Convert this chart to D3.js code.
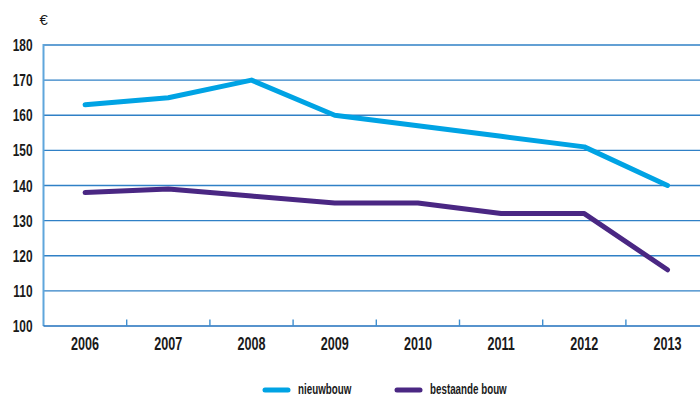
<!DOCTYPE html>
<html>
<head>
<meta charset="utf-8">
<script src="https://cdn.jsdelivr.net/npm/d3@7"></script>
<style>
  html, body { margin: 0; padding: 0; background: #fff; }
  svg { display: block; }
  text { font-family: "Liberation Sans", Arial, sans-serif; fill: #1a1a1a; }
</style>
</head>
<body>
<svg id="chart" width="700" height="397"></svg>
<script>
// Average price per m² (€), new vs existing construction
const years = ["2006", "2007", "2008", "2009", "2010", "2011", "2012", "2013"];
const nieuwbouw = [163, 165, 170, 160, 157, 154, 151, 140];
const bestaandeBouw = [138, 139, 137, 135, 135, 132, 132, 116];
const yTicks = [100, 110, 120, 130, 140, 150, 160, 170, 180];
const seriesNames = ["nieuwbouw", "bestaande bouw"];
const seriesColors = ["#00a3e4", "#4a2783"];

const svg = d3.select("#chart");
const plotLeft = 43.5, plotTop = 45, plotBottom = 326;
const band = 83.2;

const x = d3.scaleBand().domain(years).range([plotLeft, plotLeft + band * years.length]).padding(0);
const y = d3.scaleLinear().domain([100, 180]).range([plotBottom, plotTop]);

const narrow = 0.7;

// horizontal gridlines
svg.append("g")
  .selectAll("line")
  .data(yTicks.filter(d => d > 100))
  .join("line")
  .attr("x1", plotLeft).attr("x2", 700)
  .attr("y1", d => y(d)).attr("y2", d => y(d))
  .attr("stroke", "#2f80c6").attr("stroke-width", 1.4);

// y axis line
svg.append("line")
  .attr("x1", plotLeft).attr("x2", plotLeft)
  .attr("y1", plotTop - 1).attr("y2", plotBottom)
  .attr("stroke", "#5fa6dc").attr("stroke-width", 2);

// x axis line with tick marks at band boundaries
svg.append("line")
  .attr("x1", plotLeft).attr("x2", 700)
  .attr("y1", plotBottom).attr("y2", plotBottom)
  .attr("stroke", "#1f6fbc").attr("stroke-width", 1.6);
svg.append("g")
  .selectAll("line")
  .data(years.slice(1))
  .join("line")
  .attr("x1", d => x(d)).attr("x2", d => x(d))
  .attr("y1", plotBottom).attr("y2", plotBottom - 6.5)
  .attr("stroke", "#3f8fd0").attr("stroke-width", 1.4);

// y tick labels
svg.append("g")
  .selectAll("text")
  .data(yTicks)
  .join("text")
  .attr("transform", d => `translate(32.5,${y(d) + 6}) scale(${narrow},1)`)
  .attr("text-anchor", "end")
  .attr("font-size", 17)
  .attr("font-weight", "bold")
  .text(d => d);

// currency label
svg.append("text")
  .attr("x", 39.5).attr("y", 24.5)
  .attr("font-size", 15)
  .text("€");

// x tick labels
svg.append("g")
  .selectAll("text")
  .data(years)
  .join("text")
  .attr("transform", d => `translate(${x(d) + band / 2},${349.5}) scale(${narrow},1)`)
  .attr("text-anchor", "middle")
  .attr("font-size", 18)
  .attr("font-weight", "bold")
  .text(d => d);

// series lines
const line = d3.line()
  .x((d, i) => x(years[i]) + band / 2)
  .y(d => y(d));

[nieuwbouw, bestaandeBouw].forEach((vals, k) => {
  svg.append("path")
    .datum(vals)
    .attr("d", line)
    .attr("fill", "none")
    .attr("stroke", seriesColors[k])
    .attr("stroke-width", 5)
    .attr("stroke-linecap", "round")
    .attr("stroke-linejoin", "round");
});

// legend
const legendX = [265, 397];
const legend = svg.append("g");
seriesNames.forEach((name, k) => {
  legend.append("line")
    .attr("x1", legendX[k]).attr("x2", legendX[k] + 23)
    .attr("y1", 390).attr("y2", 390)
    .attr("stroke", seriesColors[k])
    .attr("stroke-width", 5)
    .attr("stroke-linecap", "round");
  legend.append("text")
    .attr("transform", `translate(${legendX[k] + 33},${394}) scale(${narrow},1)`)
    .attr("font-size", 14)
    .attr("font-weight", "bold")
    .text(name);
});
</script>
</body>
</html>
